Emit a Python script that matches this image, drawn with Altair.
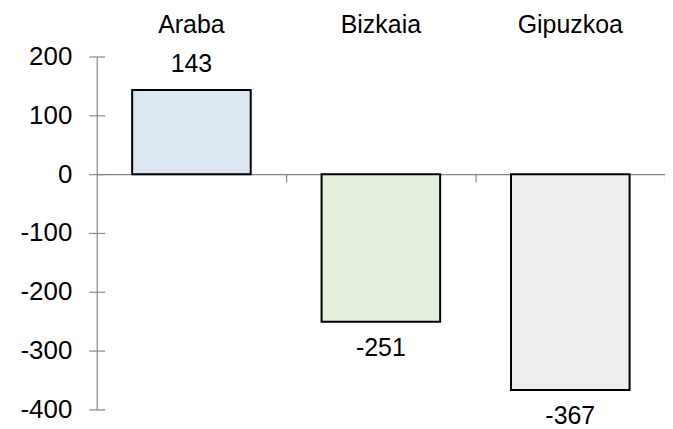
import altair as alt
import pandas as pd

regions = ["Araba", "Bizkaia", "Gipuzkoa"]
values = [143, -251, -367]
fills = ["#DCE6F2", "#E2EFDA", "#EDEDED"]
y_ticks = [-400, -300, -200, -100, 0, 100, 200]

df = pd.DataFrame({"region": regions, "value": values})
df["label"] = [str(v) for v in values]

FONT = "Liberation Sans"
AX = "#868686"

xscale = alt.Scale(domain=regions, paddingInner=0, paddingOuter=0)
yscale = alt.Scale(domain=[-400, 200], nice=False, zero=False)
color = alt.Color("region:N", scale=alt.Scale(domain=regions, range=fills), legend=None)

bars = alt.Chart(df).mark_bar(
    stroke="black", strokeWidth=2, width=alt.RelativeBandSize(0.626)
).encode(
    x=alt.X("region:N", sort=regions, scale=xscale, title=None,
            axis=alt.Axis(orient="top", domain=False, ticks=False, labelAngle=0,
                          labelFontSize=25, labelFont=FONT, labelColor="black",
                          labelBaseline="alphabetic", labelPadding=24)),
    y=alt.Y("value:Q", scale=yscale, title=None,
            axis=alt.Axis(orient="left", values=y_ticks, offset=-8, tickSize=16,
                          tickColor=AX, tickWidth=1.2, domain=False, grid=False,
                          labelExpr="toString(datum.value)",
                          labelFontSize=26, labelFont=FONT, labelColor="black",
                          labelPadding=17)),
    color=color,
)

frame = alt.Chart(df).mark_bar(opacity=0, width=alt.RelativeBandSize(0.626)).encode(
    x=alt.X("region:N", sort=regions, scale=xscale, title=None,
            axis=alt.Axis(orient="bottom", offset=-236, labels=False, bandPosition=1,
                          tickSize=8, tickColor=AX, tickWidth=1.2,
                          domainColor=AX, domainWidth=1.2, grid=False)),
    y=alt.Y("value:Q", scale=yscale, title=None,
            axis=alt.Axis(orient="right", offset=-570, labels=False, ticks=False,
                          domainColor=AX, domainWidth=1.2, grid=False, values=y_ticks)),
)

pos_text = alt.Chart(df).transform_filter("datum.value >= 0").mark_text(
    baseline="alphabetic", dy=-18, fontSize=25, font=FONT, color="black"
).encode(
    x=alt.X("region:N", sort=regions, scale=xscale, axis=None),
    y=alt.Y("value:Q", scale=yscale, axis=None),
    text=alt.Text("label:N"),
)

neg_text = alt.Chart(df).transform_filter("datum.value < 0").mark_text(
    baseline="alphabetic", dy=34, fontSize=25, font=FONT, color="black"
).encode(
    x=alt.X("region:N", sort=regions, scale=xscale, axis=None),
    y=alt.Y("value:Q", scale=yscale, axis=None),
    text=alt.Text("label:N"),
)

chart = alt.layer(bars, frame, pos_text, neg_text).resolve_axis(
    x="independent", y="independent"
).properties(
    width=570, height=354,
    autosize=alt.AutoSizeParams(type="none"),
    padding={"left": 89, "top": 48, "right": 0, "bottom": 20},
    background="white",
).configure_view(stroke=None)

chart.save("out.html", embed_options={"renderer": "svg", "actions": False})
